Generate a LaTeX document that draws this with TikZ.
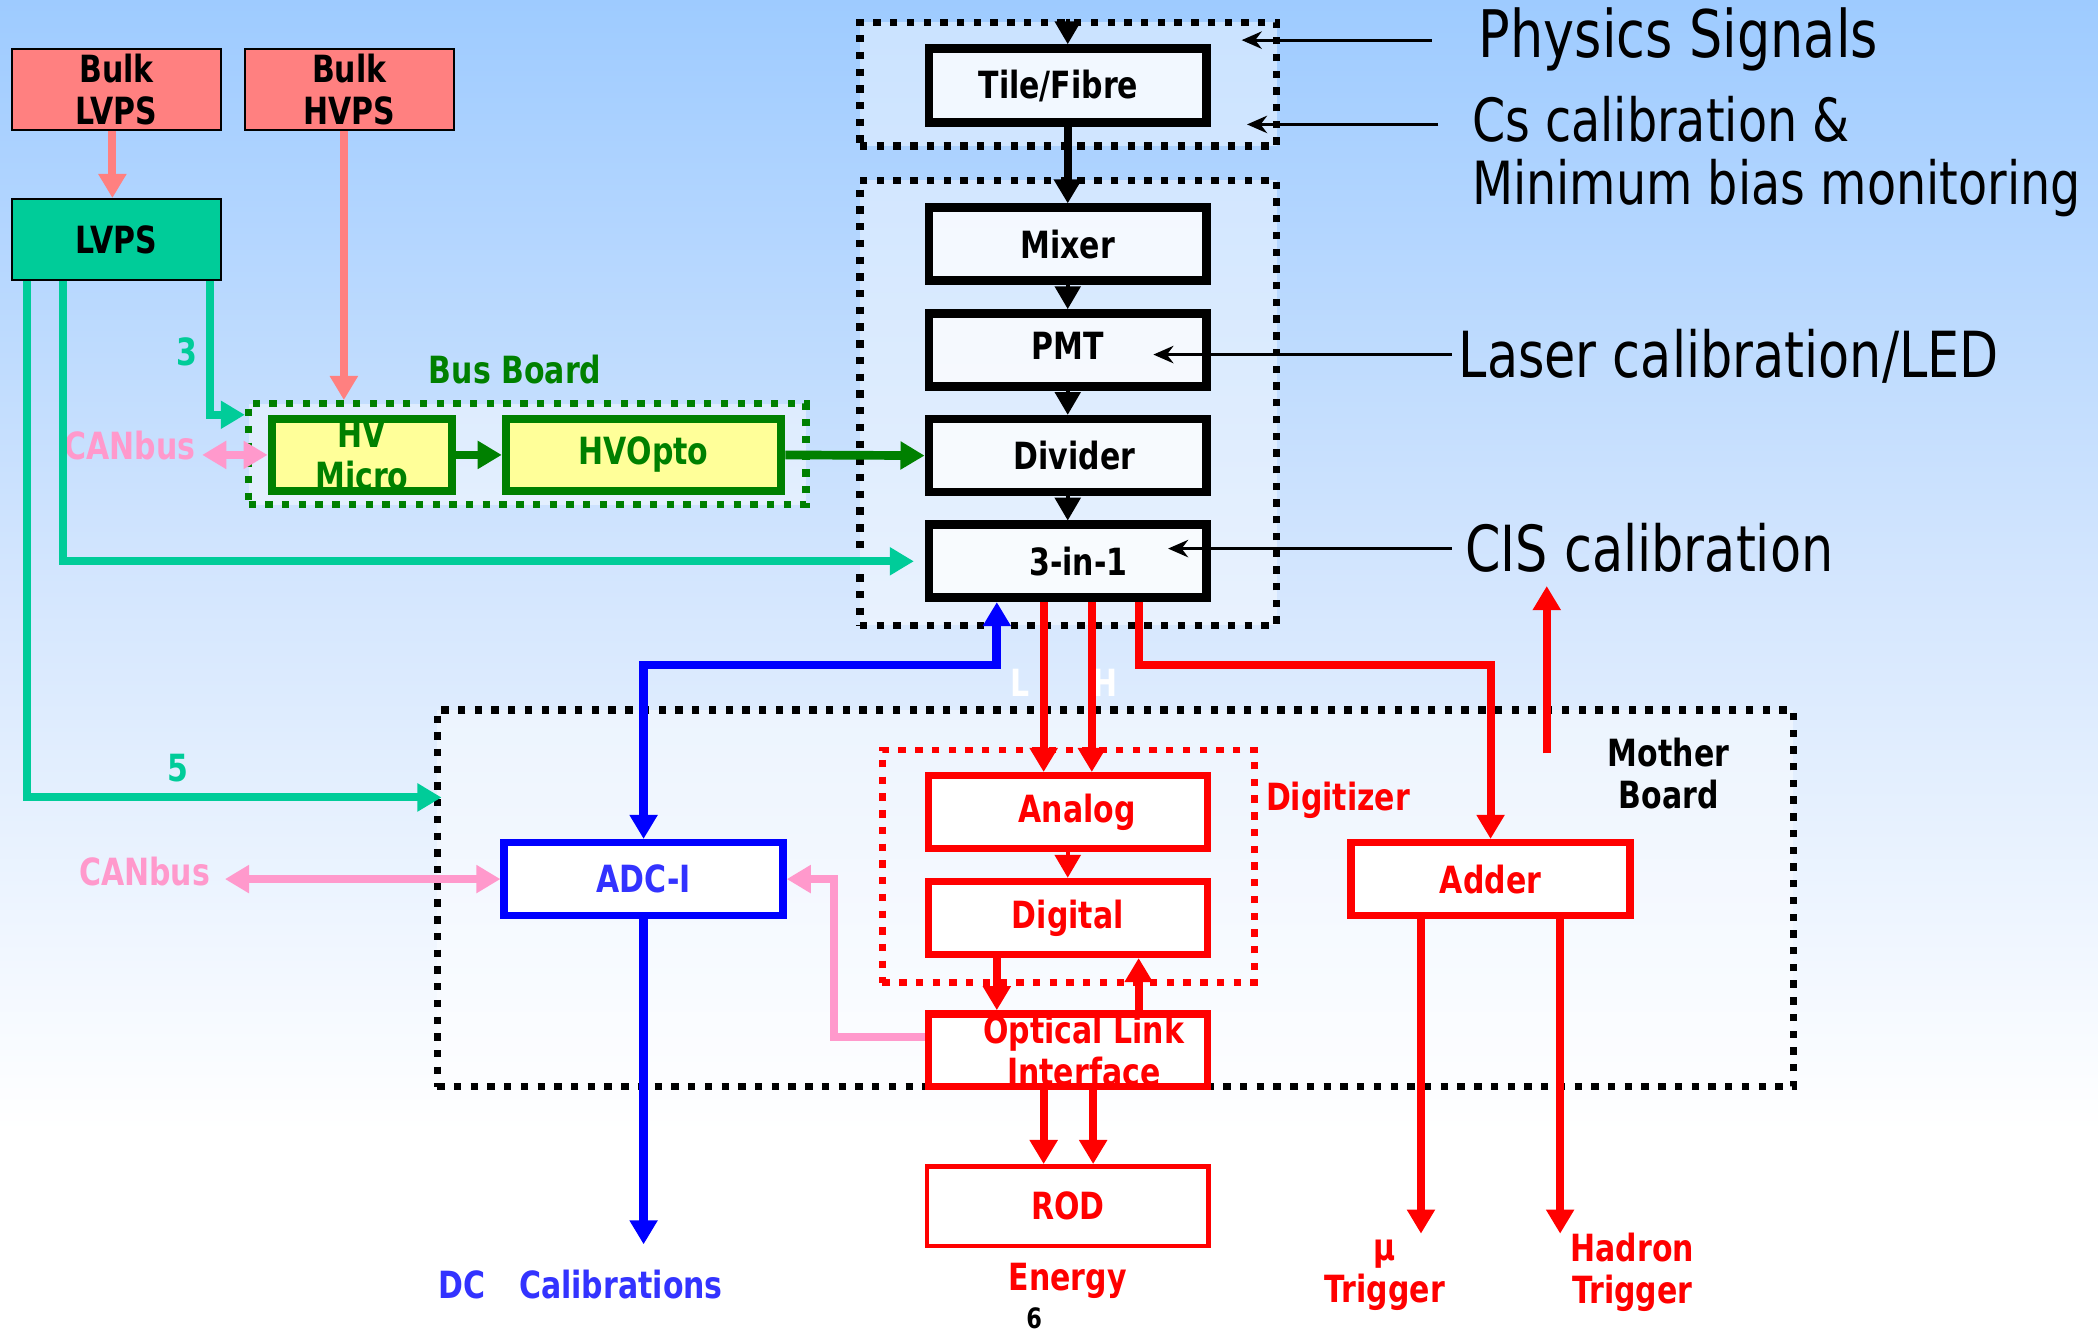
\documentclass[tikz,border=0pt]{standalone}
\usepackage{fontspec}
\setmainfont{DejaVu Sans}[FakeStretch=0.8]
\usetikzlibrary{arrows.meta}
\definecolor{bgtop}{RGB}{158,203,255}
\definecolor{bgmid}{RGB}{212,230,254}
\definecolor{salmon}{RGB}{255,128,128}
\definecolor{tealc}{RGB}{0,204,153}
\definecolor{dgreen}{RGB}{0,128,0}
\definecolor{lyellow}{RGB}{255,255,153}
\definecolor{pinkc}{RGB}{255,153,204}
\definecolor{redc}{RGB}{255,0,0}
\definecolor{bluec}{RGB}{0,0,255}
\definecolor{bluetext}{RGB}{51,51,255}
\pgfdeclareverticalshading{bgsh}{100bp}{color(0bp)=(white); color(32.5bp)=(white); color(53bp)=(bgmid); color(75bp)=(bgtop); color(100bp)=(bgtop)}
\begin{document}
\begin{tikzpicture}[x=1pt,y=-1pt,
  lbl/.style={font=\bfseries\fontsize{28}{31.5}\selectfont, align=center, inner sep=0pt},
  bigl/.style={inner sep=0pt, anchor=base west},
  dotbox/.style={draw=black, line width=5.5pt, dash pattern=on 5.5pt off 7pt, fill=white, fill opacity=0.45},
  cbox/.style={lbl, draw=black, line width=6.5pt, fill=white, fill opacity=0.75, text opacity=1, minimum width=207.5pt},
  redbox/.style={lbl, draw=redc, line width=5.5pt, fill=white, text=redc, minimum width=208.5pt, minimum height=54.5pt},
  gbox/.style={lbl, draw=dgreen, line width=6pt, fill=lyellow, text=dgreen, minimum height=54pt},
  pbox/.style={lbl, draw=black, line width=1.5pt, fill=salmon, minimum width=156.5pt, minimum height=60.5pt},
  ar/.style={line width=6pt, -{Triangle[length=18pt,width=20pt]}},
  dbl/.style={line width=6pt, {Triangle[length=18pt,width=20pt]}-{Triangle[length=18pt,width=20pt]}},
  tri/.style={line width=3pt, -{Triangle[length=17pt,width=19pt]}},
  thinar/.style={line width=2.2pt, -{Stealth[length=15pt,width=13pt]}}
]
\useasboundingbox (0,0) rectangle (1568,995);
\fill[shading=bgsh] (0,0) rectangle (1568,995);

% containers
\node[dotbox, minimum width=311.5pt, minimum height=92.5pt] (topbox) at (798.5,63) {};
\node[dotbox, minimum width=311.5pt, minimum height=332.5pt] (colbox) at (798.5,301) {};
\node[dotbox, draw=dgreen, minimum width=416.5pt, minimum height=75.5pt] (busboard) at (394,339.5) {};
\node[dotbox, minimum width=1013.5pt, minimum height=281.5pt] (mother) at (833.5,671.5) {};
\node[dotbox, draw=redc, line width=5pt, fill opacity=0, minimum width=278pt, minimum height=174pt] (digitizer) at (798.5,647.5) {};

% column boxes
\node[cbox, minimum height=55.5pt] (tile) at (798,64) {Tile/Fibre\hspace*{14pt}};
\node[cbox, minimum height=54.5pt] (mixer) at (798,182.5) {Mixer};
\node[cbox, minimum height=54.5pt] (pmt) at (798,261.5) {\raisebox{6pt}{PMT}};
\node[cbox, minimum height=54.5pt] (divider) at (798,340.5) {\hspace*{10pt}Divider};
\node[cbox, minimum height=54.5pt] (threein) at (798,419.5) {\hspace*{16pt}3-in-1};

% red boxes
\node[redbox] (analog) at (798,607) {\hspace*{14pt}Analog};
\node[redbox] (digital) at (798,686) {Digital};
\node[redbox] (optical) at (798,785) {\hspace*{24pt}Optical Link\\\hspace*{24pt}Interface};
\node[redbox, line width=3.5pt, minimum width=210.5pt, minimum height=59.5pt] (rod) at (798,901.5) {ROD};
\node[redbox] (adder) at (1114,657) {Adder};
\node[redbox, draw=bluec, text=bluetext] (adc) at (481,657) {ADC-I};

% green boxes
\node[gbox, minimum width=135pt] (hvmicro) at (270.5,340) {HV\\Micro};
\node[gbox, minimum width=206pt] (hvopto) at (481,340) {HVOpto};

% power boxes
\node[pbox] (bulklv) at (87,67) {Bulk\\LVPS};
\node[pbox] (bulkhv) at (261,67) {Bulk\\HVPS};
\node[pbox, fill=tealc] (lvps) at (87,179) {LVPS};

% labels
\node[lbl, text=dgreen] (bbl) at (385,276) {Bus Board};
\node[lbl, text=redc] (digl) at (1000,598) {Digitizer};
\node[lbl] (mbl) at (1247,578) {Mother\\Board};
\node[lbl, text=redc] (enl) at (798,957) {Energy};
\node[font=\bfseries\fontsize{21}{24}\selectfont, inner sep=0pt] (six) at (773,985) {6};
\node[lbl, text=bluetext] (dcl) at (434,960) {DC\hspace{0.9em}Calibrations};
\node[lbl, text=redc] (mul) at (1035,953) {μ\\Trigger};
\node[lbl, text=redc] (hadl) at (1220,951) {Hadron\\Trigger};
\node[lbl, text=tealc] (three) at (140,263) {3};
\node[lbl, text=tealc] (five) at (133,574) {5};
\node[lbl, text=pinkc] (can1) at (97,333) {CANbus};
\node[lbl, text=pinkc] (can2) at (108,651) {CANbus};
\node[lbl, text=white] (lL) at (762,510) {L};
\node[lbl, text=white] (hH) at (826,510) {H};

\node[bigl, font=\fontsize{49}{52}\selectfont] (phys) at (1105,43) {Physics Signals};
\node[bigl, font=\fontsize{44.5}{47}\selectfont] (cs1) at (1100,106) {Cs calibration \&};
\node[bigl, font=\fontsize{44.5}{47}\selectfont] (cs2) at (1100,153) {Minimum bias monitoring};
\node[bigl, font=\fontsize{47.5}{50}\selectfont] (laser) at (1090,282) {Laser calibration/LED};
\node[bigl, font=\fontsize{47.5}{50}\selectfont] (cis) at (1095,427) {CIS calibration};

% label arrows
\coordinate (physin) at (928,30);
\coordinate (csin) at (932,93);
\coordinate (laserin) at (862,265);
\coordinate (cisin) at (873,410);
\draw[thinar] ([xshift=-35pt]phys.west |- physin) -- (physin);
\draw[thinar] ([xshift=-25pt]cs1.west |- csin) -- (csin);
\draw[thinar] ([xshift=-5pt]laser.west |- laserin) -- (laserin);
\draw[thinar] ([xshift=-10pt]cis.west |- cisin) -- (cisin);

% power connectors
\draw[ar, salmon] ([xshift=-3pt]bulklv.south) -- ([xshift=-3pt]lvps.north);
\draw[ar, salmon] ([xshift=-4pt]bulkhv.south) -- ([xshift=-4pt]bulkhv.south |- busboard.north);
\draw[ar, tealc] ([xshift=-9pt]lvps.south east) |- ([yshift=29.5pt]busboard.west);
\draw[ar, tealc] ([xshift=39pt]lvps.south west) |- ([xshift=-8pt]threein.west);
\draw[ar, tealc] ([xshift=12pt]lvps.south west) |- ([xshift=6pt,yshift=75.5pt]mother.west);

% CANbus
\draw[dbl, pinkc] ([xshift=5pt]can1.east |- hvmicro.west) -- (hvmicro.west);
\draw[dbl, pinkc] ([xshift=11pt]can2.east |- adc.west) -- (adc.west);
\draw[ar, pinkc] ([yshift=10pt]optical.west) -| ([xshift=35pt]adc.east) -- (adc.east);

% HV chain
\draw[ar, dgreen, line width=6.5pt] (hvmicro.east) -- (hvopto.west);
\draw[ar, dgreen, line width=6.5pt] (hvopto.east) -- (divider.west);

% column
\draw[tri] (tile.north |- topbox.north) -- (tile.north);
\draw[ar] (tile.south) -- (mixer.north);
\draw[tri] (mixer.south) -- (pmt.north);
\draw[tri] (pmt.south) -- (divider.north);
\draw[tri] (divider.south) -- (threein.north);

% blue
\coordinate (dcend) at (482,930);
\draw[line width=6.5pt, bluec, {Triangle[length=18pt,width=20pt]}-{Triangle[length=18pt,width=20pt]}] (adc.north) |- ([xshift=-53pt,yshift=-47pt]threein.south) -- ([xshift=-53pt]threein.south);
\draw[ar, bluec, line width=6.5pt] (adc.south) -- (adc.south |- dcend);

% red
\draw[ar, redc] ([xshift=-18pt]threein.south) -- ([xshift=-18pt]analog.north);
\draw[ar, redc] ([xshift=18pt]threein.south) -- ([xshift=18pt]analog.north);
\draw[ar, redc] ([xshift=53pt]threein.south) -- ++(0,47) -| (adder.north);
\draw[tri, redc] (analog.south) -- (digital.north);
\draw[ar, redc] ([xshift=-53pt]digital.south) -- ([xshift=-53pt]optical.north);
\draw[ar, redc] ([xshift=53pt]optical.north) -- ([xshift=53pt]digital.south);
\draw[ar, redc] ([xshift=-18pt]optical.south) -- ([xshift=-18pt]rod.north);
\draw[ar, redc] ([xshift=19pt]optical.south) -- ([xshift=19pt]rod.north);
\coordinate (muend) at (1062,922);
\coordinate (hadend) at (1166,922);
\draw[ar, redc] ([xshift=-52pt]adder.south) -- ([xshift=-52pt]adder.south |- muend);
\draw[ar, redc] ([xshift=52pt]adder.south) -- ([xshift=52pt]adder.south |- hadend);
\coordinate (upst) at (1156,563);
\coordinate (upend) at (1156,438);
\draw[ar, redc] (upst) -- (upend);
\end{tikzpicture}
\end{document}
